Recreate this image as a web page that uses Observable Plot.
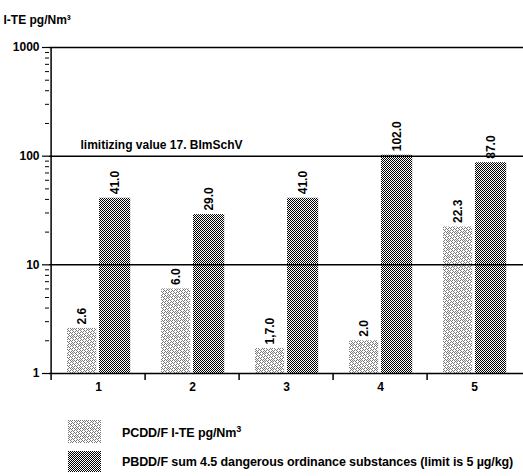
<!DOCTYPE html>
<html>
<head>
<meta charset="utf-8">
<script src="https://cdn.jsdelivr.net/npm/d3@7"></script>
<script src="https://cdn.jsdelivr.net/npm/@observablehq/plot@0.6"></script>
<style>
  html, body { margin: 0; padding: 0; background: #fff; }
  body { width: 523px; height: 476px; position: relative; overflow: hidden;
         font-family: "Liberation Sans", Arial, sans-serif; }
  #chart svg { display: block; }
  .leg { position: absolute; left: 0; font-size: 12.5px; font-weight: bold; color: #000; white-space: nowrap; }
  .leg svg { position: absolute; left: 68px; }
  .leg span { position: absolute; left: 122px; letter-spacing: -0.1px; }
</style>
</head>
<body>
<div id="chart"></div>
<div class="leg" style="top:420px"><svg width="33" height="23"><rect width="33" height="23" fill="url(#patLight)"/></svg><span style="top:4px">PCDD/F I-TE pg/Nm<sup style="font-size:9px">3</sup></span></div>
<div class="leg" style="top:451px"><svg width="33" height="21"><rect width="33" height="21" fill="url(#patDark)"/></svg><span style="top:4px">PBDD/F sum 4.5 dangerous ordinance substances (limit is 5 µg/kg)</span></div>
<script>
// ---- data ----
const categories = ["1", "2", "3", "4", "5"];
const pcddValues = [2.6, 6.0, 1.7, 2.0, 22.3];
const pbddValues = [41.0, 29.0, 41.0, 102.0, 87.0];
const pcddLabels = ["2.6", "6.0", "1,7.0", "2.0", "22.3"];
const pbddLabels = ["41.0", "29.0", "41.0", "102.0", "87.0"];
const yMajorTicks = [1, 10, 100, 1000];
const yMinorTicks = [2, 3, 4, 5, 6, 7, 8, 9, 20, 30, 40, 50, 60, 70, 80, 90, 200, 300, 400, 500, 600, 700, 800, 900];
const gridValues = [10, 100, 1000];
const limitValue = 100;
const limitLabel = "limitizing value 17. BImSchV";
const yTitle = "I-TE pg/Nm³";

const pcddRows = categories.map((c, i) => ({cat: c, value: pcddValues[i], label: pcddLabels[i]}));
const pbddRows = categories.map((c, i) => ({cat: c, value: pbddValues[i], label: pbddLabels[i]}));

const W = 523, H = 395, ML = 49, MR = 0;
const bw = (W - ML - MR) / categories.length;

const chart = Plot.plot({
  width: W,
  height: H,
  marginLeft: ML,
  marginRight: MR,
  marginTop: 47,
  marginBottom: 22,
  style: {fontFamily: '"Liberation Sans", Arial, sans-serif', fontSize: "12px", fontWeight: "bold", color: "#000", background: "#fff"},
  x: {type: "band", domain: categories, padding: 0, axis: null, label: null},
  y: {type: "log", domain: [1, 1000], axis: null, label: null},
  marks: [
    Plot.barY(pcddRows, {x: "cat", y1: 1, y2: "value", fill: "url(#patLight)", insetLeft: 16, insetRight: bw - 46}),
    Plot.barY(pbddRows, {x: "cat", y1: 1, y2: "value", fill: "url(#patDark)", insetLeft: 48, insetRight: bw - 80}),
    Plot.ruleY(gridValues, {stroke: "#000", strokeWidth: 1.5}),
    Plot.ruleY([1], {stroke: "#000", strokeWidth: 1.5}),
    Plot.ruleX([categories[0]], {dx: -bw / 2, stroke: "#000", strokeWidth: 1.5}),
    Plot.axisY(yMinorTicks, {label: null, tickSize: 4, tickFormat: () => "", strokeWidth: 1}),
    Plot.axisY(yMajorTicks, {label: null, tickSize: 7, tickPadding: 3, tickFormat: d => String(d), strokeWidth: 1.2, fontSize: 12}),
    Plot.axisX({label: null, tickSize: 0, tickPadding: 9, fontSize: 12}),
    Plot.axisX({label: null, tickSize: 7, tickFormat: () => "", dx: -bw / 2, strokeWidth: 1.5}),
    Plot.text(pcddRows, {x: "cat", y: "value", text: "label", rotate: -90, textAnchor: "start", dx: -16, dy: -4, fontSize: 12}),
    Plot.text(pbddRows, {x: "cat", y: "value", text: "label", rotate: -90, textAnchor: "start", dx: 17, dy: -4, fontSize: 12}),
    Plot.text([limitLabel], {y: [limitValue], text: d => d, frameAnchor: "left", textAnchor: "start", dx: 31, dy: -11, fontSize: 12}),
    Plot.text([yTitle], {frameAnchor: "top-left", textAnchor: "start", dx: -46, dy: -32, fontSize: 12})
  ]
});

// patterns (style only)
const ns = "http://www.w3.org/2000/svg";
const defs = document.createElementNS(ns, "defs");
function makePattern(id, size, rowsStr, color) {
  const p = document.createElementNS(ns, "pattern");
  p.setAttribute("id", id);
  p.setAttribute("patternUnits", "userSpaceOnUse");
  p.setAttribute("width", size);
  p.setAttribute("height", size);
  const bg = document.createElementNS(ns, "rect");
  bg.setAttribute("width", size); bg.setAttribute("height", size); bg.setAttribute("fill", "#fff");
  p.appendChild(bg);
  rowsStr.forEach((r, yy) => {
    for (let xx = 0; xx < r.length; xx++) {
      if (r[xx] === "#") {
        const d = document.createElementNS(ns, "rect");
        d.setAttribute("x", xx); d.setAttribute("y", yy);
        d.setAttribute("width", 1); d.setAttribute("height", 1);
        d.setAttribute("fill", color);
        p.appendChild(d);
      }
    }
  });
  defs.appendChild(p);
}
makePattern("patLight", 8, [
  "#.#.#.#.",
  ".#.#...#",
  "#...#.#.",
  ".#.#.#..",
  "#.#...#.",
  "...#.#.#",
  "#.#.#...",
  ".#...#.#"
], "#7a7a7a");
makePattern("patDark", 2, ["#.", ".#"], "#000");
chart.insertBefore(defs, chart.firstChild);

document.getElementById("chart").appendChild(chart);
</script>
</body>
</html>
